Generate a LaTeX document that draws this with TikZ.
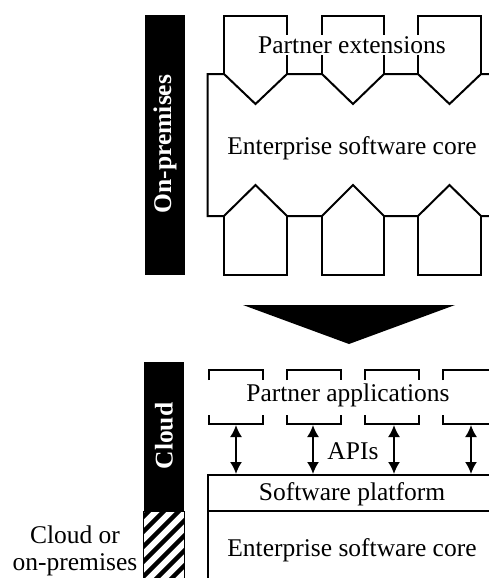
\documentclass[tikz,border=0pt]{standalone}
\usepackage{fontspec}
\setmainfont{Liberation Serif}
\usetikzlibrary{arrows.meta}
\begin{document}
\begin{tikzpicture}[x=1pt,y=-1pt,line width=2pt,
  txt/.style={font=\fontsize{25.5}{30}\selectfont, inner sep=1.5pt},
  bar/.style={font=\fontsize{25.5}{30}\selectfont\bfseries, text=white, rotate=90, inner sep=0pt},
  api/.style={{Latex[length=12pt,width=12pt]}-{Latex[length=12pt,width=12pt]}, line width=1.8pt}]
\useasboundingbox (0,0) rectangle (489,578);
\clip (0,0) rectangle (489,578);

% ---------- On-premises part ----------
\fill[black] (145,15) rectangle (185,275);
\node[bar] (onprem) at (165,144) {On-premises};

% core outline with extension slots
\draw[line join=miter] (495,74) -- (481,74) -- (449.5,104) -- (418,74) -- (384,74) -- (353,104) -- (322,74)
  -- (287,74) -- (255.5,104) -- (224,74) -- (207.5,74) -- (207.5,216) -- (224,216) -- (255.5,185) -- (287,216)
  -- (322,216) -- (353,185) -- (384,216) -- (418,216) -- (449.5,185) -- (481,216) -- (495,216);
% extensions
\foreach \a/\b in {224/287,322/384,418/481}{
  \draw[line join=miter] (\a,74) -- (\a,16) -- (\b,16) -- (\b,74);
  \draw[line join=miter] (\a,216) -- (\a,275) -- (\b,275) -- (\b,216);
}
\node[txt, fill=white] (ext) at (352,45) {Partner extensions};
\node[txt] (core1) at (352,148) {Enterprise software core};

% ---------- transition arrow ----------
\fill[black] (243,305) -- (455,305) -- (349,344) -- cycle;

% ---------- Cloud part ----------
\fill[black] (143.5,362) rectangle (184,511);
\node[bar] (cloud) at (164,436) {Cloud};
\begin{scope}
  \clip (143.5,511) rectangle (184,590);
  \foreach \k in {0,...,10}{
    \draw[line width=4.5pt] (130,{500+15*\k}) -- (200,{430+15*\k});
  }
\end{scope}
\draw[line width=1pt] (143.5,511) rectangle (184,590);
\node[txt, align=center] (mixed) at (75,551) {Cloud or\\[-3pt]on-premises};

% partner application brackets
\foreach \a/\b in {209/263,287/341,365/419,443/520}{
  \draw[line join=miter] (\a,380) -- (\a,370) -- (\b,370) -- (\b,380);
  \draw[line join=miter] (\a,415) -- (\a,424) -- (\b,424) -- (\b,415);
}
\node[txt] (apps) at (348,395) {Partner applications};

% platform and core
\draw (207.5,590) -- (207.5,475) -- (495,475);
\draw (207.5,511) -- (495,511);
\node[txt] (plat) at (352,494) {Software platform};
\node[txt] (core2) at (352,550) {Enterprise software core};

% API arrows
\foreach \x/\n in {236/a,313/b,394/c,471/d}{
  \coordinate (top\n) at (\x,425);
  \coordinate (bot\n) at (\x,474);
  \draw[api] (top\n) -- (bot\n);
}
\node[txt] (apis) at (353,451) {APIs};
\end{tikzpicture}
\end{document}
